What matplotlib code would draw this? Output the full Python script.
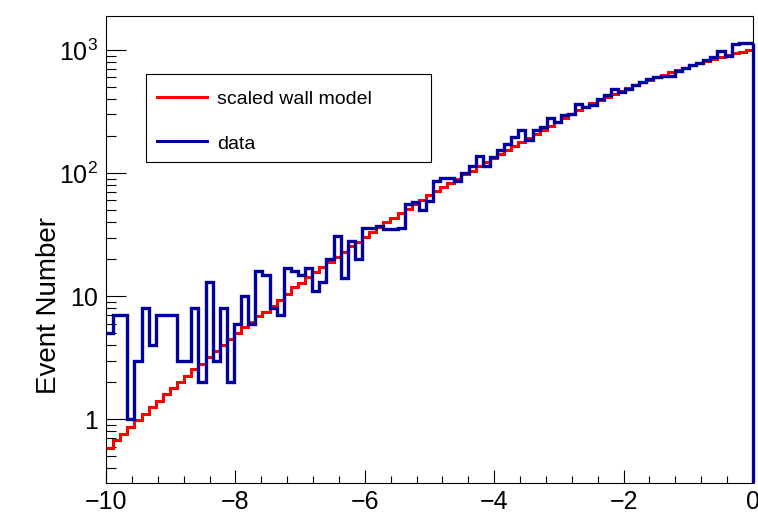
import numpy as np
import matplotlib
matplotlib.use("Agg")
import matplotlib.pyplot as plt
from matplotlib.ticker import FixedLocator, FixedFormatter, MultipleLocator, NullFormatter
from matplotlib.patches import Rectangle
from matplotlib.lines import Line2D

# ---------------- data ----------------
x_range = [-10.0, 0.0]
n_bins = 91

model_counts = [0.59, 0.68, 0.76, 0.87, 0.98, 1.10, 1.25, 1.42, 1.60, 1.80,
                2.02, 2.26, 2.56, 2.84, 3.18, 3.60, 4.01, 4.48, 5.04, 5.6,
                6.2, 6.9, 7.5, 8.4, 9.3, 10.5, 11.8, 12.9, 14.2, 15.8,
                17.3, 19.0, 20.8, 22.9, 25.5, 27.6, 30.2, 33.1, 36.3, 39.8,
                43.5, 47.2, 51.3, 55.7, 60.7, 65.9, 71.3, 77.1, 83.4, 90.2,
                97.5, 105, 114, 123, 132, 143, 154, 166, 179, 193,
                208, 224, 242, 261, 281, 303, 327, 347, 368, 391,
                415, 441, 466, 491, 518, 545, 573, 601, 631, 661,
                690, 721, 752, 783, 815, 847, 879, 910, 940, 971,
                1000]

data_counts = [5, 7, 7, 1, 3, 8, 4, 7, 7, 7,
               3, 3, 8, 2, 13, 3, 8, 2, 6, 10,
               6, 16, 15, 8, 7, 17, 16, 15, 17, 11,
               13, 20, 31, 14, 28, 20, 36, 36, 37, 35,
               35, 36, 56, 58, 50, 59, 86, 92, 92, 87,
               100, 115, 137, 115, 135, 155, 173, 196, 222, 187,
               225, 236, 278, 258, 299, 305, 363, 343, 355, 397,
               435, 480, 455, 480, 520, 545, 580, 600, 615, 615,
               680, 710, 750, 790, 830, 870, 990, 900, 1110, 1140,
               1140]

series_labels = ["scaled wall model", "data"]
x_ticks = [-10, -8, -6, -4, -2, 0]
x_ticklabels = ["\u221210", "\u22128", "\u22126", "\u22124", "\u22122", "0"]
y_ticks = [1, 10, 100, 1000]
y_ticklabels = ["1", "10", r"$\mathregular{10^{2}}$", r"$\mathregular{10^{3}}$"]
y_label = "Event Number"

# ---------------- style ----------------
plt.rcParams["font.family"] = ["Liberation Sans", "DejaVu Sans"]
plt.rcParams["mathtext.fontset"] = "custom"
plt.rcParams["mathtext.rm"] = "Liberation Sans"
plt.rcParams["mathtext.it"] = "Liberation Sans:italic"
plt.rcParams["mathtext.bf"] = "Liberation Sans:bold"

RED = "#ff0000"
BLUE = "#0000a0"

W, H = 758, 513
fig = plt.figure(figsize=(W / 100, H / 100), dpi=100)
fig.patch.set_facecolor("white")
ax = fig.add_axes([106 / W, 30 / H, 647 / W, 467 / H])

edges = np.linspace(x_range[0], x_range[1], n_bins + 1)
ymin, ymax = 0.304, 1890

ax.stairs(model_counts, edges, baseline=None, color=RED, lw=2.2, zorder=2)
ax.stairs(data_counts, edges, baseline=None, color=BLUE, lw=2.4, zorder=3)
# closing edge of the data histogram at the right end
ax.vlines(edges[-1], ymin, data_counts[-1], color=BLUE, lw=2.4, zorder=3, clip_on=False)

ax.set_yscale("log")
ax.set_xlim(x_range)
ax.set_ylim(ymin, ymax)

ax.xaxis.set_major_locator(FixedLocator(x_ticks))
ax.xaxis.set_major_formatter(FixedFormatter(x_ticklabels))
ax.xaxis.set_minor_locator(MultipleLocator(0.4))

minor_y = [m * 10.0 ** e for e in range(-1, 4) for m in range(2, 10)]
minor_y = [v for v in minor_y if ymin <= v <= ymax]
ax.yaxis.set_major_locator(FixedLocator(y_ticks))
ax.yaxis.set_major_formatter(FixedFormatter(y_ticklabels))
ax.yaxis.set_minor_locator(FixedLocator(minor_y))
ax.yaxis.set_minor_formatter(NullFormatter())

ax.tick_params(axis="x", which="major", direction="in", length=9.5, width=0.8,
               labelsize=18, pad=5, top=False)
ax.tick_params(axis="x", which="minor", direction="in", length=5, width=0.8, top=False)
ax.tick_params(axis="y", which="major", direction="in", length=14.4, width=0.8,
               labelsize=18, pad=6, right=False)
ax.tick_params(axis="y", which="minor", direction="in", length=7.2, width=0.8, right=False)

for s in ax.spines.values():
    s.set_linewidth(0.8)
    s.set_color("black")
ax.spines["left"].set_zorder(4)
ax.spines["bottom"].set_zorder(4)

ax.set_ylabel(y_label, fontsize=20)
ax.yaxis.label.set_verticalalignment("baseline")
ax.yaxis.set_label_coords((56 - 106) / 647, (483 - 305) / 467)

# ---------------- legend (ROOT style box) ----------------
ax.add_patch(Rectangle((0.0618, 0.688), 0.4405, 0.1872, transform=ax.transAxes,
                       facecolor="white", edgecolor="black", lw=0.8, zorder=6))
leg_colors = [RED, BLUE]
leg_line_y = [0.8272, 0.7323]
leg_text_y = [0.8109, 0.716]
for lab, col, ly, ty in zip(series_labels, leg_colors, leg_line_y, leg_text_y):
    ax.add_line(Line2D([0.0788, 0.1561], [ly, ly], transform=ax.transAxes,
                       color=col, lw=2.2, zorder=7))
    ax.text(0.1716, ty, lab, transform=ax.transAxes, fontsize=14,
            va="baseline", ha="left", zorder=7)

fig.savefig("out.png", dpi=100, facecolor="white")
